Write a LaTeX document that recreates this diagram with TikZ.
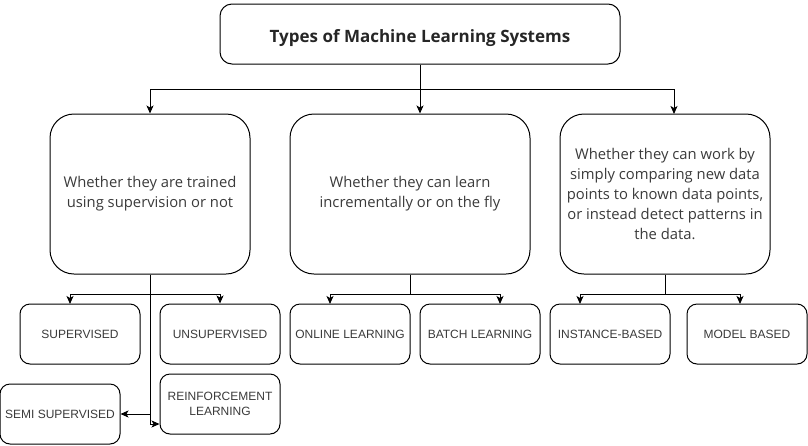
\documentclass[tikz,border=0pt]{standalone}
\usepackage{fontspec}
\setmainfont{Open Sans}
\newfontfamily\labelfont{Liberation Sans}
\usetikzlibrary{arrows.meta}
\definecolor{txtgray}{HTML}{3A3A3A}

\begin{document}
\begin{tikzpicture}[x=1pt,y=-1pt,line width=1pt,
  box/.style={draw,rounded corners=12pt,align=center,text=txtgray,inner sep=2pt},
  bigbox/.style={box,rounded corners=24pt,minimum height=160pt,font=\fontsize{14.8}{19.8}\selectfont},
  leaf/.style={box,rounded corners=10pt,minimum width=120pt,minimum height=60pt,font=\labelfont\fontsize{12}{15.5}\selectfont},
  arr/.style={-{Stealth[length=8pt,width=7pt,inset=2pt]}}]
  \useasboundingbox (0,0) rectangle (808,445);
  % top level
  \node[box,minimum width=400pt,minimum height=60pt,text height=21pt,text depth=4pt,font=\bfseries\fontsize{17}{20}\selectfont,text=black!85] (types) at (420,34) {Types of Machine Learning Systems};
  % criteria
  \node[bigbox,minimum width=200pt] (train) at (150,194) {Whether they are trained\\using supervision or not};
  \node[bigbox,minimum width=240pt] (fly) at (410,194) {Whether they can learn\\incrementally or on the fly};
  \node[bigbox,minimum width=210pt] (compare) at (665,194) {Whether they can work by\\simply comparing new data\\points to known data points,\\or instead detect patterns in\\the data.};
  % leaves
  \node[leaf] (sup) at (80,334) {SUPERVISED};
  \node[leaf] (unsup) at (220,334) {UNSUPERVISED};
  \node[leaf] (online) at (350,334) {ONLINE LEARNING};
  \node[leaf] (batch) at (480,334) {BATCH LEARNING};
  \node[leaf] (instance) at (610,334) {INSTANCE-BASED};
  \node[leaf] (model) at (747,334) {MODEL BASED};
  \node[leaf] (reinf) at (220,404) {REINFORCEMENT\\LEARNING};
  \node[leaf] (semi) at (60,414) {SEMI SUPERVISED};

  % connectors
  \draw (types.south) -- (420,89) coordinate (j0);
  \draw[arr] (j0) -| (train.north);
  \draw[arr] (j0) -- (j0 |- fly.north);
  \draw[arr] (j0) -| (674,114) coordinate (c0);
  \draw (train.south) -- (150,294) coordinate (j1);
  \draw[arr] (j1) -| (70,304) coordinate (s0);
  \draw[arr] (j1) -| (unsup.north);
  \draw (j1) -- (150,424) coordinate (j2);
  \draw[arr] (j1 |- semi.east) -- (semi.east);
  \draw[arr] (j2) -- (j2 -| reinf.west);
  \draw (fly.south) -- (410,294) coordinate (j3);
  \draw[arr] (j3) -| (330,304) coordinate (o0);
  \draw[arr] (j3) -| (500,304) coordinate (b0);
  \draw (compare.south) -- (665,294) coordinate (j4);
  \draw[arr] (j4) -| (580,304) coordinate (i0);
  \draw[arr] (j4) -| (740,304) coordinate (m0);
\end{tikzpicture}
\end{document}
